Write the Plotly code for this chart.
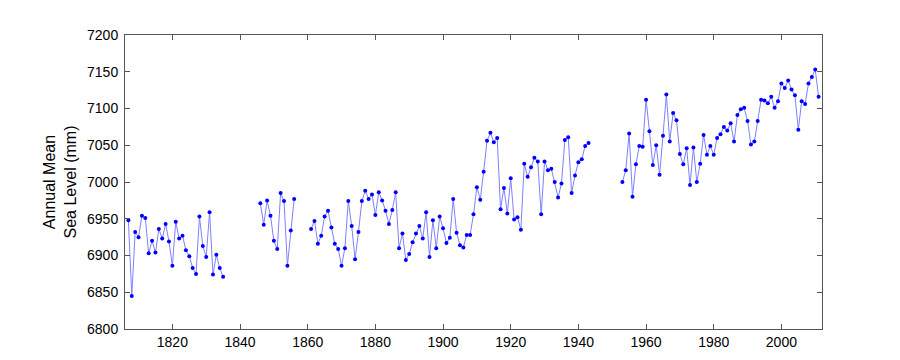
import plotly.graph_objects as go

years_a = list(range(1807, 1836))
level_a = [6948, 6845, 6932, 6925, 6954, 6951, 6903, 6920, 6904, 6936,
           6923, 6943, 6919, 6886, 6946, 6923, 6927, 6907, 6899, 6883,
           6875, 6953, 6913, 6898, 6959, 6874, 6901, 6883, 6871]

years_b = list(range(1846, 1857))
level_b = [6971, 6942, 6975, 6954, 6920, 6909, 6985, 6974, 6886, 6934, 6977]

years_c = list(range(1861, 1944))
level_c = [6936, 6947, 6916, 6927, 6953, 6961, 6938, 6916, 6909, 6886,
           6910, 6974, 6940, 6895, 6932, 6974, 6988, 6977, 6983, 6955,
           6986, 6975, 6961, 6943, 6962, 6986, 6910, 6930, 6894, 6902,
           6918, 6930, 6940, 6923, 6959, 6898, 6948, 6910, 6953, 6937,
           6917, 6924, 6977, 6931, 6914, 6911, 6928, 6928, 6956, 6993,
           6976, 7014, 7056, 7067, 7054, 7060, 6963, 6992, 6957, 7005,
           6949, 6952, 6935, 7025, 7007, 7020, 7033, 7028, 6956, 7028,
           7016, 7018, 7000, 6979, 6998, 7057, 7061, 6985, 7009, 7027,
           7031, 7049, 7053]

years_d = list(range(1953, 2012))
level_d = [7000, 7016, 7066, 6980, 7024, 7049, 7048, 7112, 7069, 7023,
           7050, 7010, 7063, 7119, 7055, 7094, 7084, 7038, 7024, 7046,
           6996, 7047, 7000, 7025, 7064, 7037, 7049, 7037, 7060, 7065,
           7075, 7070, 7080, 7055, 7091, 7099, 7101, 7083, 7051, 7055,
           7083, 7112, 7111, 7107, 7116, 7101, 7110, 7134, 7128, 7138,
           7126, 7118, 7071, 7110, 7106, 7134, 7143, 7153, 7116]

x_ticks = [1820, 1840, 1860, 1880, 1900, 1920, 1940, 1960, 1980, 2000]
y_ticks = [6800, 6850, 6900, 6950, 7000, 7050, 7100, 7150, 7200]

# assemble with gaps (None) between segments
xs, ys = [], []
for yr, lv in [(years_a, level_a), (years_b, level_b), (years_c, level_c), (years_d, level_d)]:
    if xs:
        xs.append(yr[0] - 1)
        ys.append(None)
    xs.extend(yr)
    ys.extend(lv)

fig = go.Figure()
fig.add_trace(go.Scatter(
    x=xs, y=ys, mode="lines", connectgaps=False,
    line=dict(color="rgb(128,128,255)", width=1),
    hoverinfo="skip", showlegend=False))
fig.add_trace(go.Scatter(
    x=xs, y=ys, mode="markers",
    marker=dict(color="rgb(0,0,255)", size=4, line=dict(width=0)),
    showlegend=False))

axis_common = dict(
    showgrid=False, zeroline=False, showline=True, linecolor="#555555",
    linewidth=1, mirror="ticks", ticks="inside", ticklen=5,
    tickcolor="#555555", tickfont=dict(family="Liberation Sans, Arial", size=14, color="black"),
)

fig.update_xaxes(range=[1806, 2012], tickvals=x_ticks, **axis_common)
fig.update_yaxes(range=[6800, 7200], tickvals=y_ticks, ticklabelstandoff=3,
                 title=dict(text="Annual Mean<br>Sea Level (mm)", standoff=6,
                            font=dict(family="Liberation Sans, Arial", size=16, color="black")),
                 **axis_common)

fig.update_layout(
    width=900, height=360,
    margin=dict(l=117, r=86, t=27, b=39, autoexpand=False),
    paper_bgcolor="white", plot_bgcolor="white",
)

fig.write_html("out.html")
